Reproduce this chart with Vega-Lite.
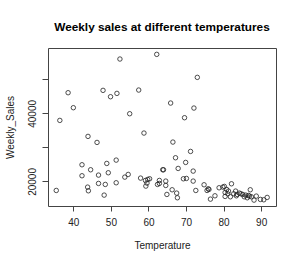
{
  "$schema": "https://vega.github.io/schema/vega-lite/v6.json",
  "width": 228,
  "height": 158,
  "autosize": {"type": "none"},
  "padding": {"left": 48, "top": 48, "right": 24, "bottom": 60},
  "background": "white",
  "config": {
    "font": "Liberation Sans",
    "view": {"stroke": "#444", "strokeWidth": 1}
  },
  "title": {
    "text": "Weekly sales at different temperatures",
    "fontSize": 11.8,
    "fontWeight": "bold",
    "font": "Liberation Sans",
    "color": "#000",
    "anchor": "middle",
    "baseline": "alphabetic",
    "offset": 5
  },
  "data": {
    "values": [
      {"Temperature": 35.45, "Weekly_Sales": 17350},
      {"Temperature": 36.4, "Weekly_Sales": 37940},
      {"Temperature": 38.6, "Weekly_Sales": 46080},
      {"Temperature": 40.0, "Weekly_Sales": 41670},
      {"Temperature": 43.9, "Weekly_Sales": 33240},
      {"Temperature": 42.3, "Weekly_Sales": 24900},
      {"Temperature": 42.3, "Weekly_Sales": 21670},
      {"Temperature": 44.6, "Weekly_Sales": 23430},
      {"Temperature": 43.8, "Weekly_Sales": 18330},
      {"Temperature": 44.0, "Weekly_Sales": 17250},
      {"Temperature": 46.3, "Weekly_Sales": 31470},
      {"Temperature": 46.7, "Weekly_Sales": 21860},
      {"Temperature": 46.7, "Weekly_Sales": 19410},
      {"Temperature": 47.9, "Weekly_Sales": 46770},
      {"Temperature": 48.5, "Weekly_Sales": 19120},
      {"Temperature": 48.2, "Weekly_Sales": 15980},
      {"Temperature": 48.9, "Weekly_Sales": 25290},
      {"Temperature": 49.3, "Weekly_Sales": 22550},
      {"Temperature": 49.9, "Weekly_Sales": 44900},
      {"Temperature": 51.6, "Weekly_Sales": 45880},
      {"Temperature": 51.4, "Weekly_Sales": 26270},
      {"Temperature": 51.4, "Weekly_Sales": 19610},
      {"Temperature": 52.4, "Weekly_Sales": 55980},
      {"Temperature": 53.7, "Weekly_Sales": 21270},
      {"Temperature": 54.6, "Weekly_Sales": 22060},
      {"Temperature": 55.0, "Weekly_Sales": 39900},
      {"Temperature": 57.4, "Weekly_Sales": 46860},
      {"Temperature": 57.9, "Weekly_Sales": 20980},
      {"Temperature": 58.8, "Weekly_Sales": 34220},
      {"Temperature": 59.2, "Weekly_Sales": 20290},
      {"Temperature": 59.3, "Weekly_Sales": 18630},
      {"Temperature": 59.6, "Weekly_Sales": 19510},
      {"Temperature": 59.8, "Weekly_Sales": 20590},
      {"Temperature": 60.3, "Weekly_Sales": 20780},
      {"Temperature": 62.2, "Weekly_Sales": 57350},
      {"Temperature": 62.4, "Weekly_Sales": 19120},
      {"Temperature": 62.9, "Weekly_Sales": 20290},
      {"Temperature": 62.9, "Weekly_Sales": 19410},
      {"Temperature": 63.8, "Weekly_Sales": 23430},
      {"Temperature": 64.0, "Weekly_Sales": 23430},
      {"Temperature": 64.6, "Weekly_Sales": 20100},
      {"Temperature": 64.6, "Weekly_Sales": 18820},
      {"Temperature": 64.9, "Weekly_Sales": 16180},
      {"Temperature": 65.9, "Weekly_Sales": 43040},
      {"Temperature": 66.3, "Weekly_Sales": 17550},
      {"Temperature": 66.5, "Weekly_Sales": 31570},
      {"Temperature": 67.2, "Weekly_Sales": 26960},
      {"Temperature": 67.5, "Weekly_Sales": 16570},
      {"Temperature": 67.7, "Weekly_Sales": 15200},
      {"Temperature": 67.9, "Weekly_Sales": 23820},
      {"Temperature": 69.3, "Weekly_Sales": 20780},
      {"Temperature": 69.6, "Weekly_Sales": 38730},
      {"Temperature": 69.9, "Weekly_Sales": 25590},
      {"Temperature": 70.1, "Weekly_Sales": 20880},
      {"Temperature": 71.2, "Weekly_Sales": 28820},
      {"Temperature": 71.9, "Weekly_Sales": 23040},
      {"Temperature": 71.9, "Weekly_Sales": 20100},
      {"Temperature": 72.1, "Weekly_Sales": 41570},
      {"Temperature": 72.6, "Weekly_Sales": 17350},
      {"Temperature": 73.0, "Weekly_Sales": 50590},
      {"Temperature": 74.8, "Weekly_Sales": 19020},
      {"Temperature": 75.6, "Weekly_Sales": 17350},
      {"Temperature": 75.9, "Weekly_Sales": 17840},
      {"Temperature": 76.1, "Weekly_Sales": 17650},
      {"Temperature": 76.5, "Weekly_Sales": 14800},
      {"Temperature": 77.7, "Weekly_Sales": 15780},
      {"Temperature": 78.8, "Weekly_Sales": 18140},
      {"Temperature": 79.8, "Weekly_Sales": 18330},
      {"Temperature": 80.2, "Weekly_Sales": 18530},
      {"Temperature": 80.4, "Weekly_Sales": 16760},
      {"Temperature": 80.4, "Weekly_Sales": 15590},
      {"Temperature": 80.8, "Weekly_Sales": 17650},
      {"Temperature": 81.1, "Weekly_Sales": 16370},
      {"Temperature": 81.3, "Weekly_Sales": 17160},
      {"Temperature": 81.8, "Weekly_Sales": 15490},
      {"Temperature": 82.1, "Weekly_Sales": 19310},
      {"Temperature": 82.7, "Weekly_Sales": 16370},
      {"Temperature": 83.2, "Weekly_Sales": 17160},
      {"Temperature": 83.4, "Weekly_Sales": 15780},
      {"Temperature": 83.6, "Weekly_Sales": 16180},
      {"Temperature": 84.2, "Weekly_Sales": 16570},
      {"Temperature": 84.6, "Weekly_Sales": 16370},
      {"Temperature": 85.1, "Weekly_Sales": 16180},
      {"Temperature": 85.5, "Weekly_Sales": 15490},
      {"Temperature": 85.9, "Weekly_Sales": 15980},
      {"Temperature": 86.3, "Weekly_Sales": 15200},
      {"Temperature": 86.6, "Weekly_Sales": 15880},
      {"Temperature": 86.9, "Weekly_Sales": 15690},
      {"Temperature": 87.1, "Weekly_Sales": 17550},
      {"Temperature": 87.4, "Weekly_Sales": 15490},
      {"Temperature": 88.1, "Weekly_Sales": 14510},
      {"Temperature": 88.7, "Weekly_Sales": 15690},
      {"Temperature": 89.8, "Weekly_Sales": 14710},
      {"Temperature": 90.7, "Weekly_Sales": 14610},
      {"Temperature": 91.6, "Weekly_Sales": 15300}
    ]
  },
  "mark": {"type": "point", "shape": "circle", "filled": false, "size": 20, "stroke": "#222", "strokeWidth": 0.8, "opacity": 1},
  "encoding": {
    "x": {
      "field": "Temperature",
      "type": "quantitative",
      "scale": {"domain": [33.25, 93.95], "nice": false, "zero": false},
      "axis": {
        "values": [40, 50, 60, 70, 80, 90],
        "grid": false,
        "domain": false,
        "tickSize": 5,
        "tickColor": "#444",
        "labelFontSize": 10,
        "labelColor": "#222",
        "labelPadding": 6,
        "labelFlush": false,
        "title": "Temperature",
        "titleFontSize": 10,
        "titleFontWeight": "normal",
        "titleColor": "#222",
        "titlePadding": 13
      }
    },
    "y": {
      "field": "Weekly_Sales",
      "type": "quantitative",
      "scale": {"domain": [12780, 59220], "nice": false, "zero": false},
      "axis": {
        "values": [20000, 30000, 40000, 50000],
        "format": "d",
        "labelExpr": "datum.value == 20000 || datum.value == 40000 ? datum.label : ''",
        "grid": false,
        "domain": false,
        "tickSize": 6,
        "tickColor": "#444",
        "labelFontSize": 10,
        "labelColor": "#222",
        "labelAngle": -90,
        "labelAlign": "center",
        "labelBaseline": "bottom",
        "labelPadding": 5,
        "labelFlush": false,
        "title": "Weekly_Sales",
        "titleFontSize": 10,
        "titleFontWeight": "normal",
        "titleColor": "#222",
        "titlePadding": 12
      }
    }
  }
}
